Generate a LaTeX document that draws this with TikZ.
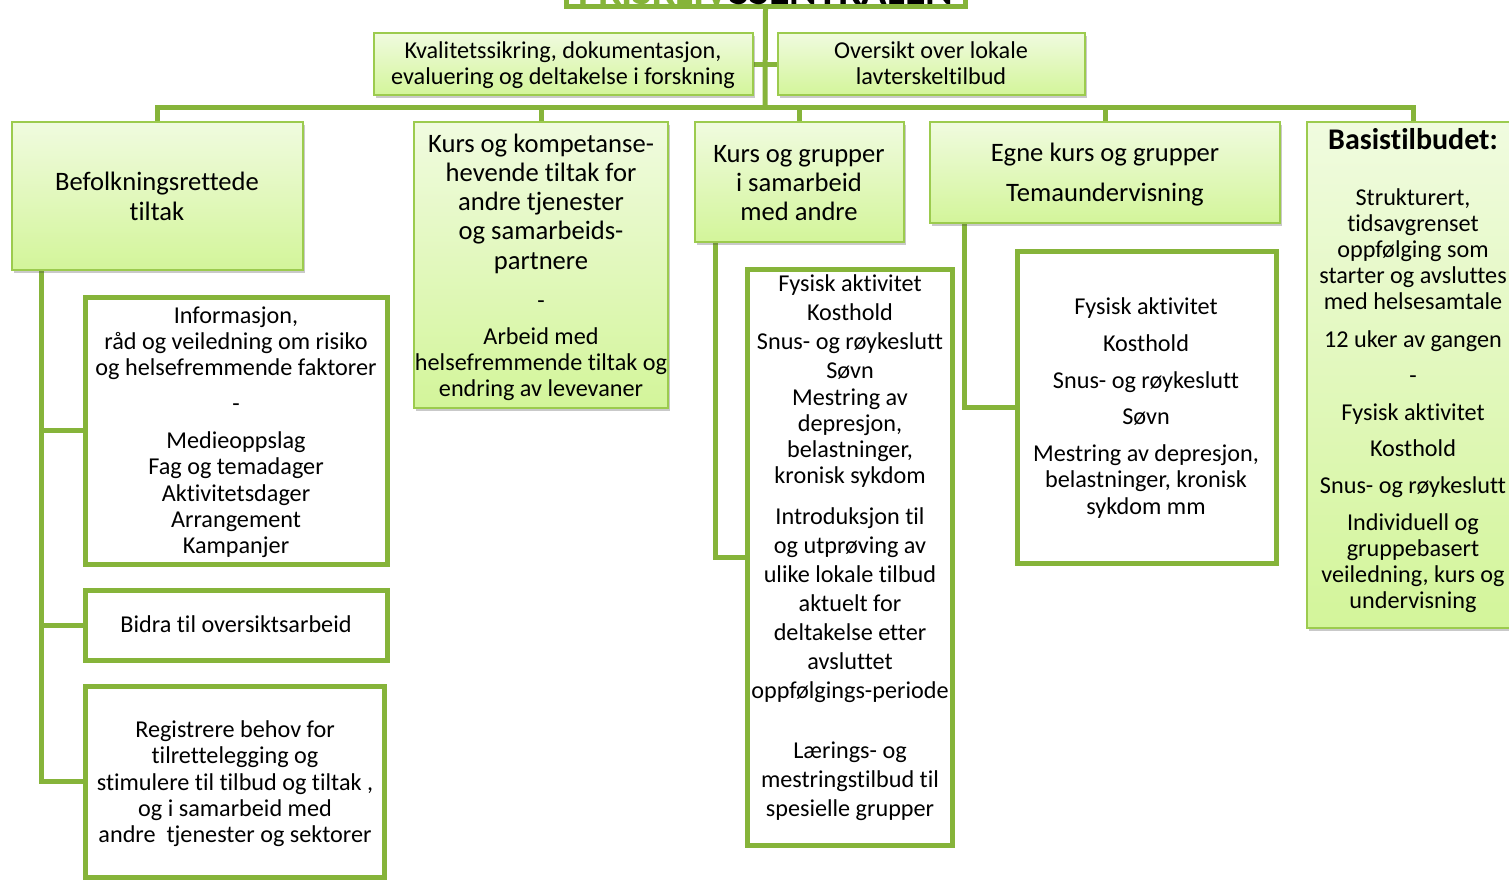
\documentclass[tikz,border=0pt]{standalone}
\usepackage{fontspec}
\setmainfont{Carlito}[Ligatures={NoCommon}]
\usetikzlibrary{shadows}
\definecolor{lineg}{HTML}{86B43A}
\definecolor{fillt}{HTML}{F0FBDF}
\definecolor{fillb}{HTML}{D3F59A}
\definecolor{edgeg}{HTML}{9CCB4E}
\pgfdeclarelayer{back}
\pgfsetlayers{back,main}
\tikzset{
 conn/.style={draw=lineg, line width=5pt},
 gbox/.style={draw=edgeg, line width=2pt, top color=fillt, bottom color=fillb,
   drop shadow={shadow xshift=2pt, shadow yshift=-3pt, opacity=0.3, fill=black!70}, inner sep=0pt},
 wbox/.style={draw=lineg, line width=5pt, fill=white, inner sep=0pt},
 sm/.style={font=\fontsize{24.2}{26}\selectfont, anchor=base, inner sep=0pt},
 bg/.style={font=\fontsize{26.6}{29}\selectfont, anchor=base, inner sep=0pt},
 bgb/.style={font=\fontsize{30}{32}\selectfont\bfseries, anchor=base, inner sep=0pt},
}
\begin{document}
\begin{tikzpicture}[x=1pt,y=-1pt]
\useasboundingbox (0,0) rectangle (1509,879);
\clip (0,0) rectangle (1509,879);
% boxes
\node[wbox, minimum width=399pt, minimum height=66pt] (top) at (765.5,-27) {};
\node[anchor=base, inner sep=0pt, font=\fontsize{42}{44}\selectfont\bfseries] (ttl) at (766,4) {\textcolor{lineg}{FRISKLIV}SSENTRALEN};
\node[gbox, minimum width=379pt, minimum height=62pt] (kval) at (563.5,64) {};
\node[gbox, minimum width=307pt, minimum height=62pt] (overs) at (931.5,64) {};
\node[gbox, minimum width=291pt, minimum height=148pt] (befolk) at (157.5,196) {};
\node[gbox, minimum width=254pt, minimum height=286pt] (kompet) at (541,265) {};
\node[gbox, minimum width=209pt, minimum height=120pt] (grp) at (799.5,182) {};
\node[gbox, minimum width=350pt, minimum height=101pt] (egne) at (1105,172.5) {};
\node[gbox, minimum width=212pt, minimum height=506pt] (basis) at (1413,375) {};
\node[wbox, minimum width=302pt, minimum height=267pt] (info) at (236,430.5) {};
\node[wbox, minimum width=302pt, minimum height=70pt] (bidra) at (236,625) {};
\node[wbox, minimum width=299pt, minimum height=191pt] (reg) at (234.5,781.5) {};
\node[wbox, minimum width=205pt, minimum height=576pt] (fys) at (849.5,557) {};
\node[wbox, minimum width=259pt, minimum height=312pt] (egnew) at (1146.5,407) {};
% connectors
\coordinate (bus) at (765,107);
\begin{pgfonlayer}{back}
\draw[conn] (top.south) -- (bus);
\draw[conn] (kval.east) -- (overs.west);
\draw[conn] (befolk.north) -- (befolk.north |- bus) -- (basis.north |- bus) -- (basis.north);
\draw[conn] (kompet.north) -- (kompet.north |- bus);
\draw[conn] (grp.north) -- (grp.north |- bus);
\draw[conn] (egne.north) -- (egne.north |- bus);
\coordinate (lft) at ([xshift=30pt]befolk.south west);
\draw[conn] (lft) |- (info.west);
\draw[conn] (lft) |- (bidra.west);
\draw[conn] (lft) |- (reg.west);
\coordinate (mid) at ([xshift=21pt]grp.south west);
\draw[conn] (mid) |- (fys.west);
\coordinate (rgt) at ([xshift=35pt]egne.south west);
\draw[conn] (rgt) |- (egnew.west);
\end{pgfonlayer}
% texts
\foreach \y/\t [count=\i] in {58/{Kvalitetssikring, dokumentasjon,},84/{evaluering og deltakelse i forskning}}
  \node[sm] (kvalt\i) at (563,\y) {\t};
\foreach \y/\t [count=\i] in {58/{Oversikt over lokale},84/{lavterskeltilbud}}
  \node[sm] (overst\i) at (931,\y) {\t};
\foreach \y/\t [count=\i] in {190/{Befolkningsrettede},220/{tiltak}}
  \node[bg] (befolkt\i) at (157,\y) {\t};
\foreach \y/\t [count=\i] in {152/{Kurs og kompetanse-},181/{hevende tiltak for},210/{andre tjenester},239/{og samarbeids-},269/{partnere}}
  \node[bg] (kompett\i) at (541,\y) {\t};
\foreach \y/\t [count=\i] in {308/{-},344/{Arbeid med},370/{helsefremmende tiltak og},396/{endring av levevaner}}
  \node[sm] (kompets\i) at (541,\y) {\t};
\foreach \y/\t [count=\i] in {162/{Kurs og grupper},191/{i samarbeid},220/{med andre}}
  \node[bg] (grpt\i) at (799,\y) {\t};
\foreach \y/\t [count=\i] in {161/{Egne kurs og grupper},201/{Temaundervisning}}
  \node[bg] (egnet\i) at (1105,\y) {\t};
\node[bgb] (basish) at (1413,149) {Basistilbudet:};
\foreach \y/\t [count=\i] in {205/{Strukturert,},231/{tidsavgrenset},257/{oppfølging som},283/{starter og avsluttes},309/{med helsesamtale},347/{12 uker av gangen},383/{-},420/{Fysisk aktivitet},456/{Kosthold},493/{Snus- og røykeslutt},530/{Individuell og},556/{gruppebasert},582/{veiledning, kurs og},608/{undervisning}}
  \node[sm] (basist\i) at (1413,\y) {\t};
\foreach \y/\t [count=\i] in {323/{Informasjon,},349/{råd og veiledning om risiko},375/{og helsefremmende faktorer},411/{-},448/{Medieoppslag},474/{Fag og temadager},501/{Aktivitetsdager},527/{Arrangement},553/{Kampanjer}}
  \node[sm] (infot\i) at (236,\y) {\t};
\node[sm] (bidrat) at (236,632) {Bidra til oversiktsarbeid};
\foreach \y/\t [count=\i] in {737/{Registrere behov for},763/{tilrettelegging og},790/{stimulere til tilbud og tiltak ,},816/{og i samarbeid med},842/{andre\ \ tjenester og sektorer}}
  \node[sm] (regt\i) at (235,\y) {\t};
\foreach \y/\t [count=\i] in {291/{Fysisk aktivitet},320/{Kosthold},349/{Snus- og røykeslutt},378/{Søvn},405/{Mestring av},431/{depresjon,},457/{belastninger,},483/{kronisk sykdom},524/{Introduksjon til},553/{og utprøving av},582/{ulike lokale tilbud},611/{aktuelt for},640/{deltakelse etter},669/{avsluttet},698/{oppfølgings-periode},758/{Lærings- og},787/{mestringstilbud til},816/{spesielle grupper}}
  \node[sm] (fyst\i) at (850,\y) {\t};
\foreach \y/\t [count=\i] in {314/{Fysisk aktivitet},351/{Kosthold},388/{Snus- og røykeslutt},424/{Søvn},461/{Mestring av depresjon,},487/{belastninger, kronisk},514/{sykdom mm}}
  \node[sm] (egnewt\i) at (1146,\y) {\t};
\end{tikzpicture}
\end{document}
